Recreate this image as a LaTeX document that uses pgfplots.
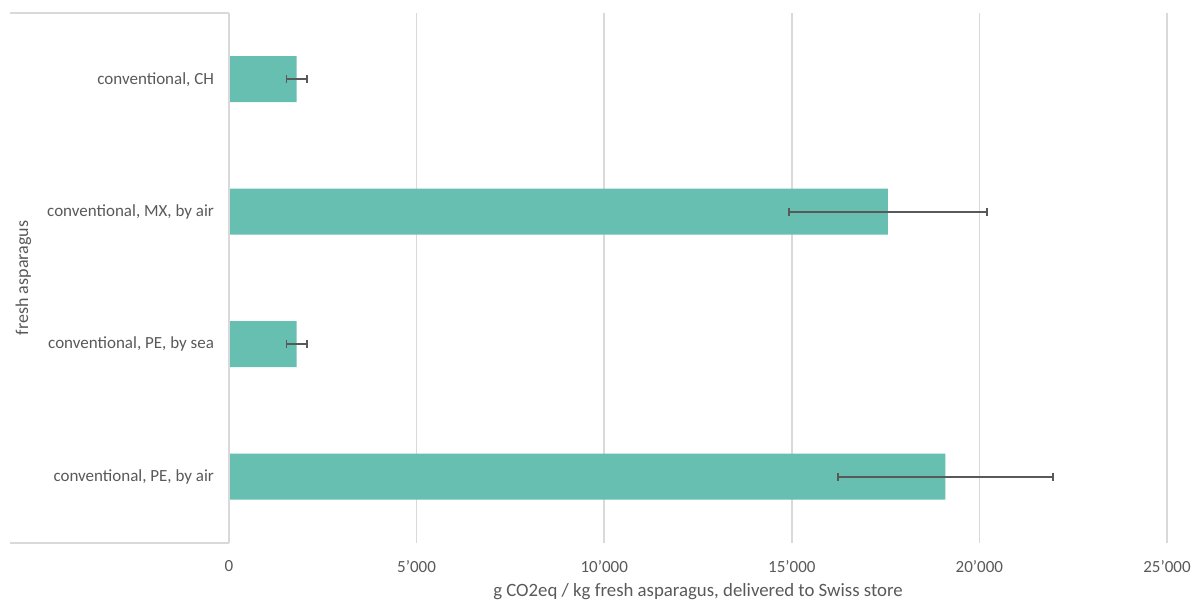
\documentclass[border=0pt]{standalone}
\usepackage{pgfplots}
\pgfplotsset{compat=1.18}
\usepackage{fontspec}
\setmainfont{Carlito}
\definecolor{barcol}{HTML}{67BFB2}
\definecolor{gridcol}{HTML}{D9D9D9}
\definecolor{txtcol}{HTML}{595959}
\begin{document}
\begin{tikzpicture}
\begin{axis}[
  name=ax,
  scale only axis,
  width=469pt, height=265pt,
  xmin=0, xmax=25000,
  ymin=0.5, ymax=4.5,
  y dir=reverse,
  xbar, bar width=23pt,
  scaled x ticks=false,
  xtick={0,5000,10000,15000,20000,25000},
  xticklabels={0,5’000,10’000,15’000,20’000,25’000},
  ytick={1,2,3,4},
  yticklabels={{conventional, CH},{conventional, MX, by air},{conventional, PE, by sea},{conventional, PE, by air}},
  xmajorgrids, grid style={gridcol, line width=0.75pt},
  major tick length=0pt,
  axis line style={draw=none},
  tick label style={font=\fontsize{8.5}{10}\selectfont, text=txtcol},
  yticklabel style={xshift=-4pt},
  xticklabel style={yshift=-5pt},
  xlabel={g CO2eq / kg fresh asparagus, delivered to Swiss store},
  label style={font=\fontsize{9.4}{11}\selectfont, text=txtcol},
  xlabel style={at={(axis description cs:0.5,0)}, anchor=base, yshift=-27pt},
  clip=false,
]
\addplot[draw=none, fill=barcol,
  error bars/.cd, x dir=both, x explicit,
  error bar style={draw=txtcol, line width=0.85pt},
  error mark options={draw=txtcol, line width=0.85pt, mark size=2pt, rotate=90}]
coordinates {
  (1804,1) +- (275,0)
  (17560,2) +- (2640,0)
  (1804,3) +- (275,0)
  (19090,4) +- (2865,0)
};
\end{axis}
\draw[gridcol, line width=0.75pt] (ax.south west) -- (ax.north west);
\draw[gridcol, line width=0.75pt] (ax.south west) -- ++(-109.5pt,0);
\draw[gridcol, line width=0.75pt] (ax.north west) -- ++(-109.5pt,0);
\node[rotate=90, font=\fontsize{9}{11}\selectfont, text=txtcol] at ([xshift=-102.75pt]ax.west) {fresh asparagus};
\pgfresetboundingbox
\useasboundingbox ([xshift=-114.5pt,yshift=-29.5pt]ax.south west) rectangle ([xshift=12.5pt,yshift=6.5pt]ax.north east);
\end{tikzpicture}
\end{document}
